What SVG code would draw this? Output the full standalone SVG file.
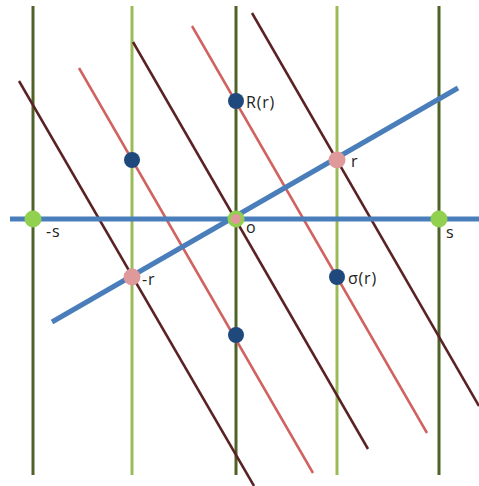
<svg xmlns="http://www.w3.org/2000/svg" width="479" height="486" viewBox="0 0 479 486">
<style>
.vd{stroke:#4f6228;stroke-width:3;fill:none}
.vl{stroke:#9bbb59;stroke-width:3;fill:none}
.br{stroke:#5a2224;stroke-width:2.5;fill:none}
.rd{stroke:#d0625f;stroke-width:2.5;fill:none}
.bl{stroke:#4a7ebb;stroke-width:5;fill:none}
.nv{fill:#1f497d}
.pk{fill:#e0999a}
.gr{fill:#92d050}
text{font-family:"Open Sans","Liberation Sans",sans-serif;font-size:16px;fill:#222;letter-spacing:0.8px}
</style>
<rect width="479" height="486" fill="#fff"/>
<g id="connectors">
<line class="vd" x1="33" y1="6" x2="33" y2="475"/>
<line class="vl" x1="132" y1="6" x2="132" y2="475"/>
<line class="vd" x1="236" y1="6" x2="236" y2="475"/>
<line class="vl" x1="337" y1="6" x2="337" y2="475"/>
<line class="vd" x1="439" y1="6" x2="439" y2="475"/>
<line class="br" x1="19" y1="81" x2="254" y2="486"/>
<line class="rd" x1="79" y1="68" x2="313" y2="473"/>
<line class="br" x1="133" y1="42" x2="368" y2="449"/>
<line class="rd" x1="192" y1="26" x2="427" y2="433"/>
<line class="br" x1="252" y1="13" x2="479" y2="406"/>
<line class="bl" x1="10" y1="219" x2="479" y2="219"/>
<line class="bl" x1="52" y1="322" x2="458" y2="88"/>
</g>
<g id="minus-s"><circle class="gr" cx="33" cy="219" r="8.5"/><text x="46" y="237">-s</text></g>
<g id="o"><circle class="gr" cx="236" cy="219" r="8.5"/><circle class="pk" cx="236" cy="219" r="5"/><text x="246" y="233">o</text></g>
<g id="s"><circle class="gr" cx="439" cy="219" r="8.5"/><text x="446" y="238">s</text></g>
<g id="r"><circle class="pk" cx="337" cy="160" r="8.5"/><text x="351" y="167">r</text></g>
<g id="minus-r"><circle class="pk" cx="132" cy="277" r="8.5"/><text x="142" y="285">-r</text></g>
<g id="Rr"><circle class="nv" cx="236" cy="101" r="8"/><text x="246" y="108">R(r)</text></g>
<g id="p1"><circle class="nv" cx="132" cy="160" r="8"/></g>
<g id="sigma-r"><circle class="nv" cx="337" cy="277" r="8"/><text x="348" y="284">σ(r)</text></g>
<g id="p2"><circle class="nv" cx="236" cy="335" r="8"/></g>
</svg>
